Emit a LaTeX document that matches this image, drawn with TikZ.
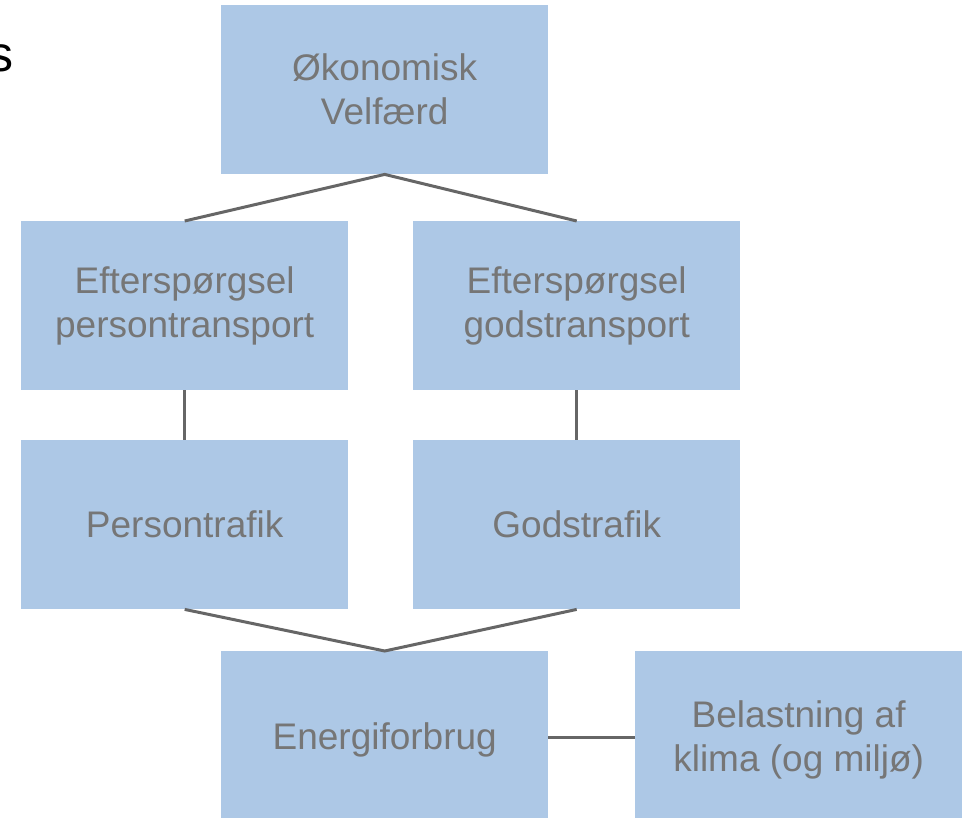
\documentclass[tikz,border=0pt]{standalone}
\usepackage{fontspec}
\setmainfont{Liberation Sans}
\definecolor{boxfill}{HTML}{ADC8E6}
\definecolor{boxtext}{HTML}{767676}
\definecolor{linec}{HTML}{666666}
\begin{document}
\begin{tikzpicture}[x=1pt,y=-1pt,
  box/.style={draw=none,fill=boxfill,text=boxtext,minimum width=327pt,minimum height=169pt,
    inner sep=0pt,align=center,font=\fontsize{37}{44}\selectfont,anchor=north west},
  conn/.style={draw=linec,line width=3pt}]
\useasboundingbox (0,0) rectangle (969,817);
\node[anchor=base east,font=\fontsize{50}{60}\selectfont,text=black,inner sep=0pt] (s) at (14,71) {s};
\node[box] (oek) at (221,5) {Økonomisk\\Velfærd};
\node[box] (ep) at (21,221) {Efterspørgsel\\persontransport};
\node[box] (eg) at (413,221) {Efterspørgsel\\godstransport};
\node[box] (pt) at (21,440) {Persontrafik};
\node[box] (gt) at (413,440) {Godstrafik};
\node[box,minimum height=178pt] (en) at (221,651) {Energiforbrug};
\node[box,minimum height=178pt] (bel) at (635,651) {Belastning af\\klima (og miljø)};
\draw[conn] (ep.north) -- (oek.south) -- (eg.north);
\draw[conn] (ep.south) -- (pt.north);
\draw[conn] (eg.south) -- (gt.north);
\draw[conn] (pt.south) -- (en.north) -- (gt.south);
\draw[conn] ([yshift=3pt]en.east) -- ([yshift=3pt]bel.west);
\end{tikzpicture}
\end{document}
